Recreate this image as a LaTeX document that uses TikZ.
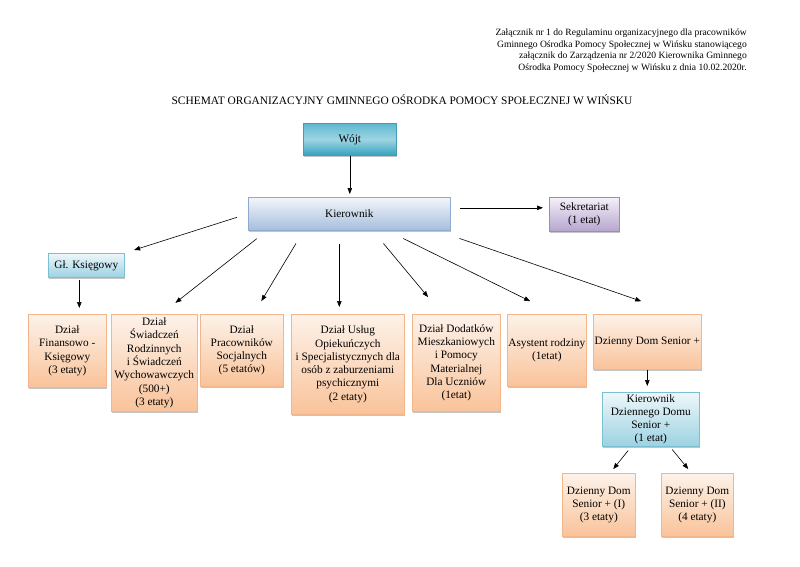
\documentclass[tikz,border=0pt]{standalone}
\usepackage{fontspec}
\setmainfont{Liberation Serif}
\usepackage{xcolor}
\usepackage{tikz}
\usetikzlibrary{arrows.meta}
\usetikzlibrary{shadows}
\definecolor{peachtop}{HTML}{FDF2E9}
\definecolor{peachbot}{HTML}{F9C39A}
\definecolor{peachline}{HTML}{F3B68A}
\definecolor{kiertop}{HTML}{F3F6FB}
\definecolor{kierbot}{HTML}{A6BEDD}
\definecolor{kierline}{HTML}{8FAAD0}
\definecolor{tealtop}{HTML}{EEF7FA}
\definecolor{tealbot}{HTML}{9CD2E1}
\definecolor{tealline}{HTML}{7BBFD3}
\definecolor{wojttop}{HTML}{5DB8CF}
\definecolor{wojtmid}{HTML}{9DD5E3}
\definecolor{wojtbot}{HTML}{36A2BD}
\definecolor{wojtline}{HTML}{3F9DB6}
\definecolor{sektop}{HTML}{F4F0F8}
\definecolor{sekbot}{HTML}{B6A5CF}
\definecolor{sekline}{HTML}{9E8BBE}
\tikzstyle{orgbox} = [draw, line width=0.6pt, rectangle, anchor=north west,
align=center, inner sep=0.5pt, font=\fontsize{11.3}{13.3}\selectfont,
drop shadow={shadow xshift=1pt, shadow yshift=-1.5pt, fill=black!45}]
\tikzstyle{dzialbox} = [orgbox, draw=peachline, top color=peachtop, bottom color=peachbot]
\tikzstyle{kierbox} = [orgbox, draw=kierline, top color=kiertop, bottom color=kierbot]
\tikzstyle{tealbox} = [orgbox, draw=tealline, top color=tealtop, bottom color=tealbot]
\tikzstyle{wojtbox} = [orgbox, draw=wojtline, top color=wojttop, bottom color=wojtbot, middle color=wojtmid]
\tikzstyle{sekbox} = [orgbox, draw=sekline, top color=sektop, bottom color=sekbot]
\tikzstyle{arr} = [-{Triangle[length=6pt,width=4.5pt]}, line width=0.6pt]

\begin{document}
\begin{tikzpicture}[x=1pt, y=-1pt]
        \useasboundingbox[fill=white] (0,0) rectangle (800,566);
        \node[anchor=north east, align=right, inner sep=0pt,
            font=\fontsize{9.6}{11.4}\selectfont] (zal) at (747,29) {%
            Załącznik nr 1 do Regulaminu organizacyjnego dla pracowników\\
            Gminnego Ośrodka Pomocy Społecznej w Wińsku stanowiącego\\
            załącznik do Zarządzenia nr 2/2020 Kierownika Gminnego\\
            Ośrodka Pomocy Społecznej w Wińsku z dnia 10.02.2020r.};
        \node[font=\fontsize{11.4}{13.3}\selectfont] (title) at (402,100)
            {SCHEMAT ORGANIZACYJNY GMINNEGO OŚRODKA POMOCY SPOŁECZNEJ W WIŃSKU};
        % gora schematu
        \node[wojtbox, minimum width=93pt, minimum height=32pt] (wojt) at (303,123) {Wójt};
        \node[kierbox, minimum width=202pt, minimum height=33pt] (kier) at (248,197) {Kierownik};
        \node[sekbox, minimum width=70pt, minimum height=34pt] (sek) at (549,197) {Sekretariat\\(1 etat)};
        \node[tealbox, minimum width=76pt, minimum height=24pt] (gk) at (48,253) {Gł. Księgowy};
        % dzialy
        \node[dzialbox, minimum width=78pt, minimum height=73pt] (d1) at (28,314)
            {Dział\\Finansowo -\\Księgowy\\(3 etaty)};
        \node[dzialbox, minimum width=86pt, minimum height=97pt] (d2) at (111,314)
            {Dział\\Świadczeń\\Rodzinnych\\i Świadczeń\\Wychowawczych\\(500+)\\(3 etaty)};
        \node[dzialbox, minimum width=83pt, minimum height=72pt] (d3) at (200,314)
            {Dział\\Pracowników\\Socjalnych\\(5 etatów)};
        \node[dzialbox, minimum width=113pt, minimum height=100pt] (d4) at (291,314)
            {Dział Usług\\Opiekuńczych\\i Specjalistycznych dla\\osób z zaburzeniami\\psychicznymi\\(2 etaty)};
        \node[dzialbox, minimum width=88pt, minimum height=97pt] (d5) at (412,314)
            {Dział Dodatków\\Mieszkaniowych\\i Pomocy\\Materialnej\\Dla Uczniów\\(1etat)};
        \node[dzialbox, minimum width=79pt, minimum height=72pt] (d6) at (507,314)
            {Asystent rodziny\\(1etat)};
        \node[dzialbox, minimum width=108pt, minimum height=55pt] (d7) at (593,314)
            {Dzienny Dom Senior +};
        % senior +
        \node[tealbox, minimum width=97pt, minimum height=54pt] (kdds) at (602,392)
            {Kierownik\\Dziennego Domu\\Senior +\\(1 etat)};
        \node[dzialbox, minimum width=73pt, minimum height=63pt] (dds1) at (562,473)
            {Dzienny Dom\\Senior + (I)\\(3 etaty)};
        \node[dzialbox, minimum width=72pt, minimum height=63pt] (dds2) at (661,473)
            {Dzienny Dom\\Senior + (II)\\(4 etaty)};
        % strzalki
        \draw[arr, shorten >=3pt] (wojt) -- (wojt |- kier.north);
        \draw[arr, shorten <=9pt, shorten >=6pt] ([yshift=6pt]kier.east) -- ([yshift=6pt]kier.east -| sek.west);
        \draw[arr, shorten <=11.6pt, shorten >=10pt] (kier.west) -- (gk.north east);
        \draw[arr, shorten <=13pt, shorten >=18pt] ([xshift=19pt]kier.south west) -- ([xshift=7pt]d2.north);
        \draw[arr, shorten <=15pt, shorten >=15pt] ([xshift=55.7pt]kier.south west) -- ([xshift=11.8pt]d3.north);
        \draw[arr, shorten <=13pt, shorten >=7pt] ([xshift=-10pt]kier.south) -- ([xshift=-10pt]kier.south |- d4.north);
        \draw[arr, shorten <=16.8pt, shorten >=22pt] ([xshift=23.4pt]kier.south) -- ([xshift=-14.1pt]d5.north);
        \draw[arr, shorten <=17.8pt, shorten >=28.9pt] ([xshift=38pt]kier.south) -- ([xshift=9.3pt]d6.north);
        \draw[arr, shorten <=24.1pt, shorten >=39.2pt] ([xshift=-13.8pt]kier.south east) -- ([xshift=31pt]d7.north);
        \draw[arr, shorten <=2pt, shorten >=6pt] ([xshift=-7pt]gk.south) -- ([xshift=-7pt]gk.south |- d1.north);
        \draw[arr, shorten >=6pt] (d7.south) -- (d7.south |- kdds.north);
        \draw[arr, shorten <=5pt, shorten >=5pt] ([xshift=-19.5pt]kdds.south) -- ([xshift=11.3pt]dds1.north);
        \draw[arr, shorten <=3.8pt, shorten >=5.1pt] ([xshift=19pt]kdds.south) -- ([xshift=-5.8pt]dds2.north);
\end{tikzpicture}
\end{document}
